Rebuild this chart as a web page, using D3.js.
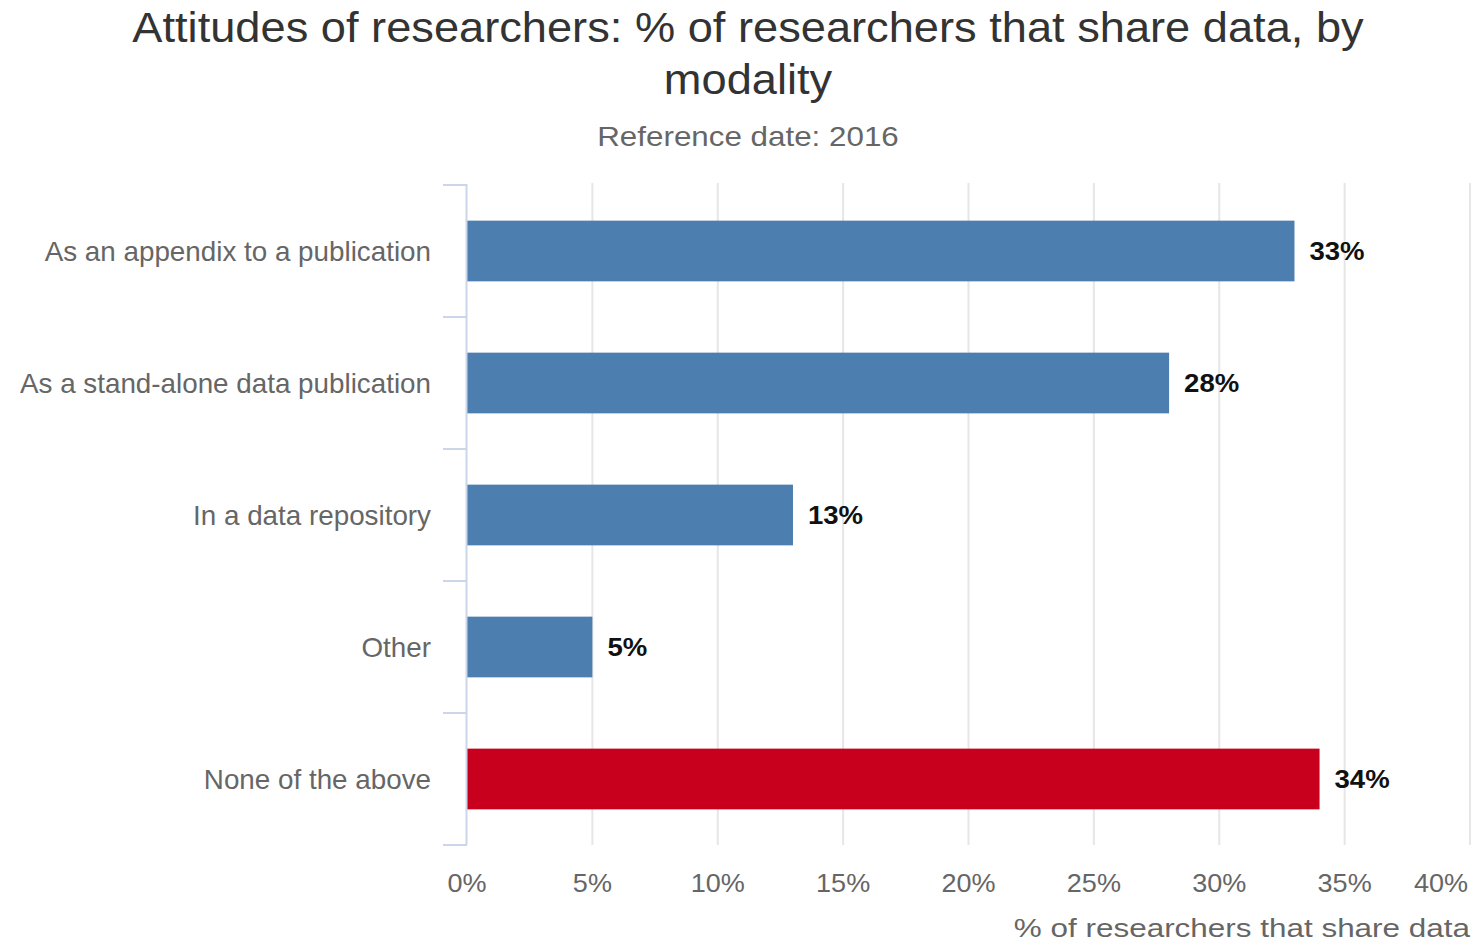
<!DOCTYPE html>
<html>
<head>
<meta charset="utf-8">
<script src="https://cdn.jsdelivr.net/npm/d3@7"></script>
<style>
  html, body { margin: 0; padding: 0; background: #fff; }
  svg { display: block; font-family: "Liberation Sans", Arial, sans-serif; }
</style>
</head>
<body>
<svg id="chart" width="1484" height="942"></svg>
<script>
// Share of researchers by data-sharing modality, 2016
const categories = [
  "As an appendix to a publication",
  "As a stand-alone data publication",
  "In a data repository",
  "Other",
  "None of the above"
];
const values = [33, 28, 13, 5, 34];
const barColors = ["#4d7eb0", "#4d7eb0", "#4d7eb0", "#4d7eb0", "#c8001e"];
const xTicks = [0, 5, 10, 15, 20, 25, 30, 35, 40];

const titleLines = ["Attitudes of researchers: % of researchers that share data, by", "modality"];
const subtitle = "Reference date: 2016";
const xAxisTitle = "% of researchers that share data";

const svg = d3.select("#chart");
const plotTop = 185, plotBottom = 845, plotLeft = 467;

const x = d3.scaleLinear().domain([0, 40]).range([plotLeft, plotLeft + 1003]);
const y = d3.scaleBand().domain(categories).range([plotTop, plotBottom]).paddingInner(0.54).paddingOuter(0.27);

// text placed at (tx, ty) with a slight horizontal widening of the glyphs
function wideText(sel, tx, ty, sx) {
  return sel.attr("transform", (d, i) => `translate(${tx(d, i)},${ty(d, i)}) scale(${sx},1)`);
}

// title and subtitle
wideText(svg.append("g").selectAll("text").data(titleLines).join("text"),
    () => 748, (d, i) => 42 + i * 52, 1.077)
  .attr("text-anchor", "middle")
  .attr("font-size", 42).attr("fill", "#333")
  .text(d => d);

wideText(svg.append("g").selectAll("text").data([subtitle]).join("text"),
    () => 748, () => 146, 1.12)
  .attr("text-anchor", "middle")
  .attr("font-size", 28).attr("fill", "#666")
  .text(d => d);

// vertical gridlines
svg.append("g").selectAll("line").data(xTicks.filter(t => t > 0)).join("line")
  .attr("x1", d => x(d)).attr("x2", d => x(d))
  .attr("y1", plotTop - 2).attr("y2", plotBottom)
  .attr("stroke", "#e6e6e6").attr("stroke-width", 2);

// x tick labels (the last one is pulled inside the right edge)
const lastTick = xTicks[xTicks.length - 1];
wideText(svg.append("g").selectAll("text").data(xTicks).join("text"),
    d => d === lastTick ? 1468 : x(d), () => 892, 1.04)
  .attr("text-anchor", d => d === lastTick ? "end" : "middle")
  .attr("font-size", 26).attr("fill", "#666")
  .text(d => d + "%");

wideText(svg.append("g").selectAll("text").data([xAxisTitle]).join("text"),
    () => 1470, () => 937, 1.21)
  .attr("text-anchor", "end")
  .attr("font-size", 26).attr("fill", "#666")
  .text(d => d);

// bars
svg.append("g").selectAll("rect").data(values).join("rect")
  .attr("x", x(0))
  .attr("y", (d, i) => y(categories[i]))
  .attr("width", d => x(d) - x(0))
  .attr("height", y.bandwidth())
  .attr("fill", (d, i) => barColors[i]);

// value labels
wideText(svg.append("g").selectAll("text").data(values).join("text"),
    d => x(d) + 15, (d, i) => y(categories[i]) + y.bandwidth() / 2, 1.06)
  .attr("dy", "0.35em")
  .attr("font-size", 26).attr("font-weight", "bold").attr("fill", "#111")
  .text(d => d + "%");

// category axis with ticks at band boundaries
const step = (plotBottom - plotTop) / categories.length;
const boundaries = d3.range(categories.length + 1).map(i => plotTop + i * step);
const axisColor = "#ccd6eb";
svg.append("line")
  .attr("x1", x(0) - 0.5).attr("x2", x(0) - 0.5)
  .attr("y1", plotTop - 1).attr("y2", plotBottom)
  .attr("stroke", axisColor).attr("stroke-width", 2);
svg.append("g").selectAll("line").data(boundaries).join("line")
  .attr("x1", 443).attr("x2", x(0))
  .attr("y1", d => d).attr("y2", d => d)
  .attr("stroke", axisColor).attr("stroke-width", 2);

wideText(svg.append("g").selectAll("text").data(categories).join("text"),
    () => 431, d => y(d) + y.bandwidth() / 2, 1.03)
  .attr("dy", "0.38em")
  .attr("text-anchor", "end")
  .attr("font-size", 27).attr("fill", "#666")
  .text(d => d);
</script>
</body>
</html>
